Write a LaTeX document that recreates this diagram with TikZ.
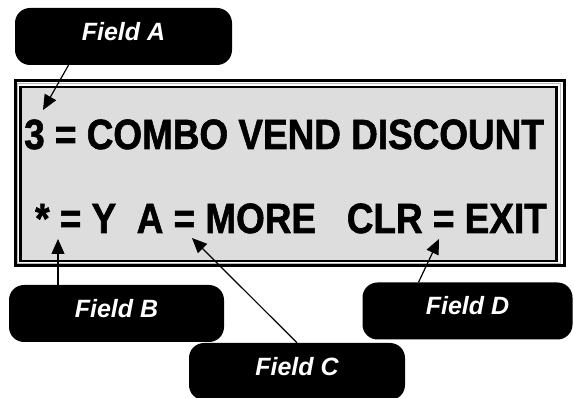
\documentclass[tikz,border=0pt]{standalone}
\usepackage{fontspec}
\setmainfont{Liberation Sans}
\newfontfamily\lcdfont{Liberation Sans Bold}[FakeBold=1.5]
\usetikzlibrary{arrows.meta,calc}
\definecolor{lcdgray}{HTML}{DDDDDD}
\definecolor{bevel}{HTML}{BBBBBB}

\begin{document}
\begin{tikzpicture}[x=1pt,y=-1pt,
  fieldbox/.style={fill=black, rounded corners=15pt, text=white,
    font=\fontsize{25}{25}\selectfont\bfseries\itshape,
    minimum width=216pt, inner xsep=0pt, inner ysep=0pt,
    text height=32.25pt, text depth=24.75pt},
  pointer/.style={line width=1.2pt, -{Triangle[length=15pt,width=13pt]}},
  lcd/.style={font=\fontsize{41}{41}\lcdfont, inner sep=0pt, anchor=base west}
]
\useasboundingbox (0,0) rectangle (574,398);

% display frame: outer border, bevel line, inner border with screen fill
\draw[line width=3pt] (15,80.5) rectangle (564.5,265.5);
\draw[bevel, line width=1.2pt] (17.8,83.8) rectangle (560.5,263.6);
\draw[line width=2.5pt, fill=lcdgray] (20.5,87) rectangle (556.5,261);

% display text
\node[lcd] (row1) at (24,149) {\scalebox{0.9}[1.03]{3 = COMBO VEND DISCOUNT}};
\node[lcd] (row2) at (35,233) {\scalebox{0.9}[1.03]{* = Y\ \ A = MORE\ \ \ CLR = EXIT}};

% field callouts
\node[fieldbox, minimum width=217pt] (fieldA) at (123.5,36.5) {Field A};
\node[fieldbox, minimum width=215pt] (fieldB) at (116.5,313.5) {Field B};
\node[fieldbox] (fieldC) at (297,371.5) {Field C};
\node[fieldbox, minimum width=210pt] (fieldD) at (467.5,311) {Field D};

% pointer targets
\coordinate (tipA) at (43,110);
\coordinate (tipB) at (58,239);
\coordinate (tipC) at (192,238);
\coordinate (tipD) at (439,239);

\draw[pointer] ($(fieldA.south)+(-55,0)$) -- (tipA);
\draw[pointer] (fieldB.north -| tipB) -- (tipB);
\draw[pointer] (fieldC.north) -- (tipC);
\draw[pointer] ($(fieldD.north)+(-49,0)$) -- (tipD);
\end{tikzpicture}
\end{document}
